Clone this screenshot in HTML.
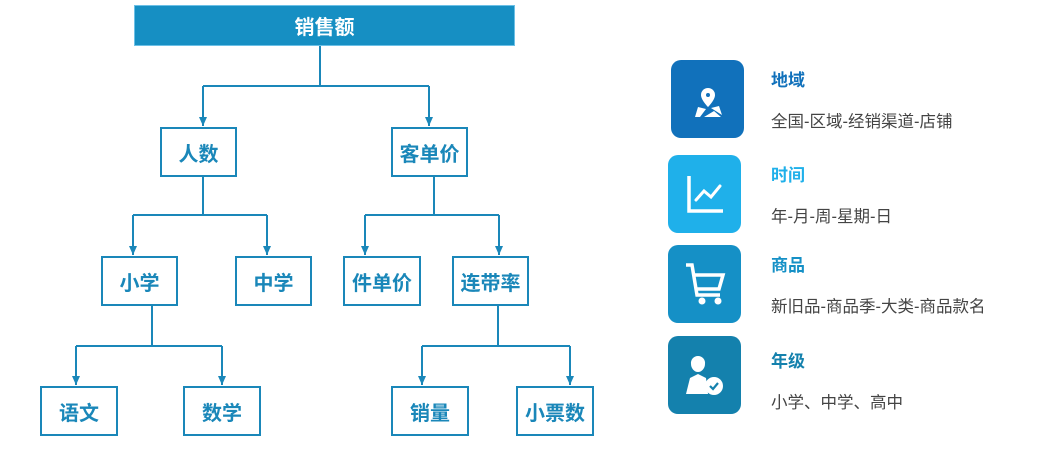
<!DOCTYPE html>
<html><head><meta charset="utf-8"><style>
body{margin:0;width:1040px;height:450px;background:#fff;position:relative;overflow:hidden;font-family:"Liberation Sans","Noto Sans CJK SC",sans-serif}
.b{position:absolute;box-sizing:border-box;border:2px solid #1a87b9;background:#fff;color:#1a87b9;font-weight:bold;font-size:20px;display:flex;align-items:center;justify-content:center;height:50px}
.ic{position:absolute;width:73px;height:78px;border-radius:10px}
.t{position:absolute;left:771px;font-weight:bold;font-size:17px}
.d{position:absolute;left:771px;font-size:16.5px;color:#444}
</style></head><body>
<div class="b" style="left:134px;top:5px;width:381px;height:41px;background:#168fc3;color:#fff;border:1px solid #6cc0e6">销售额</div>
<svg width="1040" height="450" style="position:absolute;left:0;top:0">
<defs><marker id="a" markerWidth="10" markerHeight="10" refX="9" refY="5" orient="auto" markerUnits="userSpaceOnUse"><path d="M0,1 L9,5 L0,9z" fill="#1a87b9"/></marker></defs>
<g stroke="#1a87b9" stroke-width="2" fill="none">
<path d="M320 46V86M203 86H429"/><path d="M203 86V126" marker-end="url(#a)"/><path d="M429 86V126" marker-end="url(#a)"/>
<path d="M203 177V215M133 215H267"/><path d="M133 215V255" marker-end="url(#a)"/><path d="M267 215V255" marker-end="url(#a)"/>
<path d="M434 177V215M365 215H499"/><path d="M365 215V255" marker-end="url(#a)"/><path d="M499 215V255" marker-end="url(#a)"/>
<path d="M152 306V346M76 346H222"/><path d="M76 346V385" marker-end="url(#a)"/><path d="M222 346V385" marker-end="url(#a)"/>
<path d="M498 306V346M422 346H570"/><path d="M422 346V385" marker-end="url(#a)"/><path d="M570 346V385" marker-end="url(#a)"/>
</g></svg>
<div class="b" style="left:160px;top:127px;width:77px">人数</div>
<div class="b" style="left:391px;top:127px;width:77px">客单价</div>
<div class="b" style="left:101px;top:256px;width:77px">小学</div>
<div class="b" style="left:235px;top:256px;width:77px">中学</div>
<div class="b" style="left:343px;top:256px;width:78px">件单价</div>
<div class="b" style="left:452px;top:256px;width:77px">连带率</div>
<div class="b" style="left:40px;top:386px;width:78px">语文</div>
<div class="b" style="left:183px;top:386px;width:78px">数学</div>
<div class="b" style="left:391px;top:386px;width:78px">销量</div>
<div class="b" style="left:516px;top:386px;width:78px">小票数</div>

<div class="ic" style="left:671px;top:60px;background:#1171bb"><svg width="73" height="78"><path d="M37 28a7 7 0 0 1 7 7c0 5-7 12-7 12s-7-7-7-12a7 7 0 0 1 7-7z" fill="#fff"/><circle cx="37" cy="35" r="2" fill="#1171bb"/><path d="M24 57l3-10 8 2 -6 8zM33 57l10-6 7 6zM40 48l8-2 3 9z" fill="#fff"/></svg></div>
<div class="ic" style="left:668px;top:155px;background:#1fb0ea"><svg width="73" height="78"><path d="M21 21V56H55" stroke="#fff" stroke-width="3.5" fill="none"/><path d="M28 45l8-9 7 6 9-11" stroke="#fff" stroke-width="3" fill="none" stroke-linecap="round"/></svg></div>
<div class="ic" style="left:668px;top:245px;background:#1590c6"><svg width="73" height="78"><path d="M18 20h6l5 30h23M27 30h28l-4 14H29" stroke="#fff" stroke-width="3.5" fill="none"/><circle cx="34" cy="56" r="3.5" fill="#fff"/><circle cx="50" cy="56" r="3.5" fill="#fff"/></svg></div>
<div class="ic" style="left:668px;top:336px;background:#1481ad"><svg width="73" height="78"><path d="M30 20a7 7 0 0 1 7 8c0 4-3 8-7 8s-7-4-7-8a7 7 0 0 1 7-8z" fill="#fff"/><path d="M18 58l4-16 8-4 8 4 2 16z" fill="#fff"/><circle cx="46" cy="50" r="9" fill="#fff"/><path d="M42 50l3 3 5-6" stroke="#1481ad" stroke-width="2.2" fill="none"/></svg></div>

<div class="t" style="top:66px;color:#1171bb">地域</div>
<div class="d" style="top:108px">全国-区域-经销渠道-店铺</div>
<div class="t" style="top:161px;color:#1fb0ea">时间</div>
<div class="d" style="top:203px">年-月-周-星期-日</div>
<div class="t" style="top:251px;color:#1590c6">商品</div>
<div class="d" style="top:293px">新旧品-商品季-大类-商品款名</div>
<div class="t" style="top:347px;color:#1481ad">年级</div>
<div class="d" style="top:389px">小学、中学、高中</div>
</body></html>
